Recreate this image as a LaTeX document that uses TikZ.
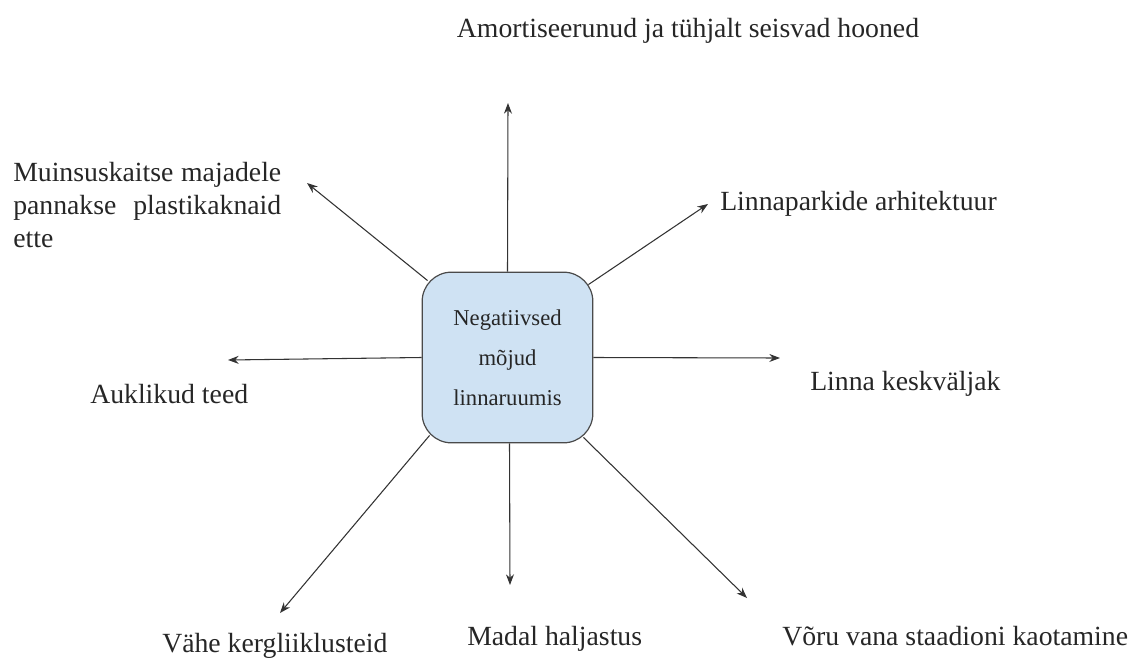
\documentclass[tikz,border=0pt]{standalone}
\usepackage{fontspec}
\setmainfont{Liberation Serif}
\usetikzlibrary{arrows.meta,calc}
\definecolor{boxfill}{HTML}{CFE2F3}
\definecolor{boxline}{HTML}{4A4A4A}
\definecolor{spokegray}{HTML}{333333}
\tikzset{
	effectbox/.style={
			draw=boxline, fill=boxfill, line width=0.9pt, rounded corners=22pt,
			minimum width=128pt, minimum height=128pt, align=center,
			font=\fontsize{17}{30}\selectfont, text=black!85
		},
	outcome/.style={font=\fontsize{20.8}{24.75}\selectfont, text=black!85, inner sep=0pt},
	spoke/.style={draw=spokegray, line width=0.8pt, -{Stealth[length=8pt,width=6pt]}}
}

\begin{document}
\begin{tikzpicture}[x=0.75pt,y=-0.75pt]
        \useasboundingbox (0,0) rectangle (1129,664);
        \node[effectbox] (effects) at (507.5, 357.5) {Negatiivsed\\mõjud\\linnaruumis};
        \coordinate (tip_up) at (508, 103);
        \coordinate (tip_ul) at (307, 183);
        \coordinate (tip_ur) at (708, 204);
        \coordinate (tip_left) at (228, 360);
        \coordinate (tip_right) at (780, 358);
        \coordinate (tip_ll) at (280, 613);
        \coordinate (tip_down) at (510, 585);
        \coordinate (tip_lr) at (747, 598);
        \draw[spoke] (effects.north) -- (tip_up);
        \draw[spoke] ($(effects.north west)+(6,9)$) -- (tip_ul);
        \draw[spoke] ($(effects.north east)+(-5,13)$) -- (tip_ur);
        \draw[spoke] (effects.west) -- (tip_left);
        \draw[spoke] (effects.east) -- (tip_right);
        \draw[spoke] ($(effects.south west)+(8,-8)$) -- (tip_ll);
        \draw[spoke] ($(effects.south)+(2,0)$) -- (tip_down);
        \draw[spoke] ($(effects.south east)+(-10,-6)$) -- (tip_lr);
        \node[outcome,anchor=base] (buildings) at (688, 37) {Amortiseerunud ja tühjalt seisvad hooned};
        \node[outcome,anchor=north west,text width=201pt,align=justify] (heritage) at (13, 162)
            {Muinsuskaitse majadele pannakse plastikaknaid ette};
        \node[outcome,anchor=base west] (parks) at (720, 210) {Linnaparkide arhitektuur};
        \node[outcome,anchor=base west] (roads) at (90, 403) {Auklikud teed};
        \node[outcome,anchor=base west] (square) at (810, 390) {Linna keskväljak};
        \node[outcome,anchor=base west] (cycling) at (162, 652) {Vähe kergliiklusteid};
        \node[outcome,anchor=base west] (greenery) at (467, 645) {Madal haljastus};
        \node[outcome,anchor=base west] (stadium) at (782, 645) {Võru vana staadioni kaotamine};
    \end{tikzpicture}
\end{document}
